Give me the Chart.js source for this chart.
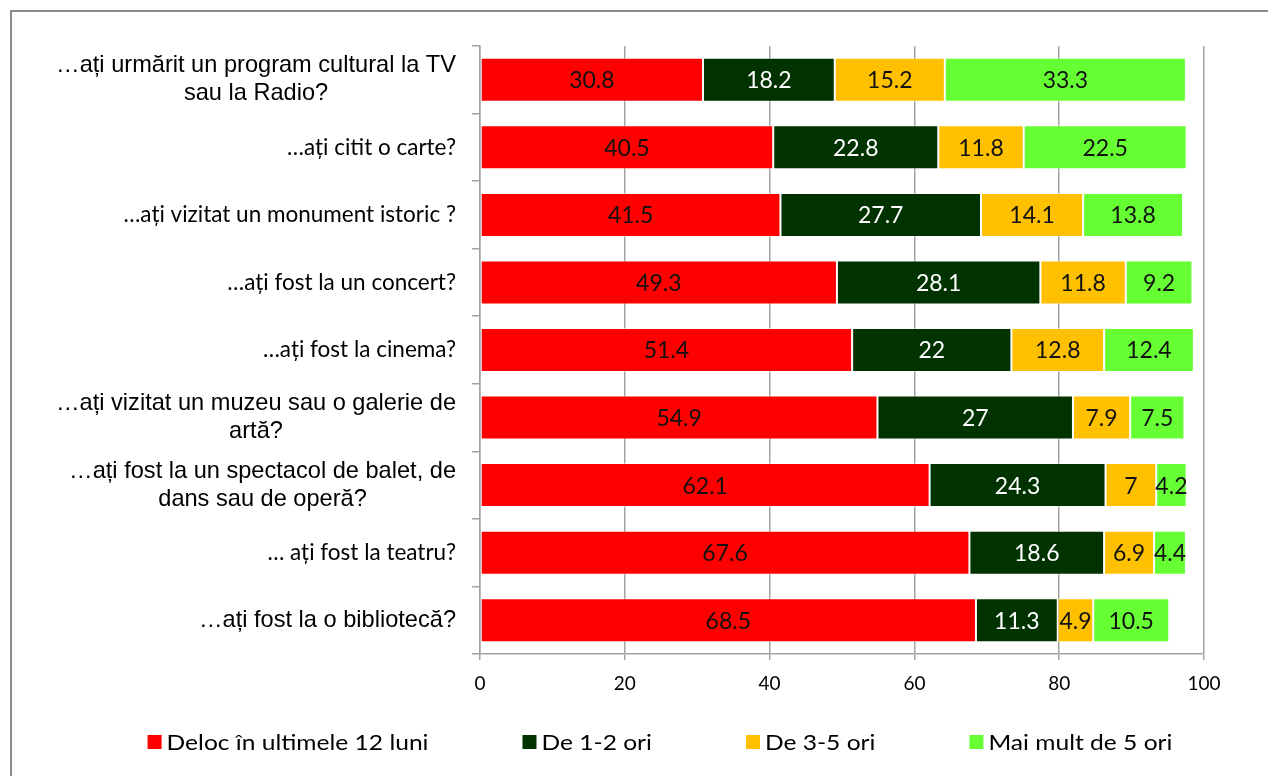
<!DOCTYPE html>
<html>
<head>
<meta charset="utf-8">
<script src="https://cdn.jsdelivr.net/npm/chart.js@4/dist/chart.umd.min.js"></script>
<style>
  html, body { margin: 0; padding: 0; background: #fff; overflow: hidden; }
  #wrap { position: absolute; left: 0; top: 0; width: 1320px; height: 800px; }
</style>
</head>
<body>
<div id="wrap"><canvas id="c" width="1320" height="800"></canvas></div>
<script>
// Questions (one array per category; several entries mean several lines)
const categories = [
  ['…ați urmărit un program cultural la TV', 'sau la Radio?'],
  ['…ați citit o carte?'],
  ['…ați vizitat un monument istoric ?'],
  ['…ați fost la un concert?'],
  ['…ați fost la cinema?'],
  ['…ați vizitat un muzeu sau o galerie de', 'artă?'],
  ['…ați fost la un spectacol de balet, de', 'dans sau de operă?'],
  ['… ați fost la teatru?'],
  ['…ați fost la o bibliotecă?']
];

// Answer shares (%)
const deloc = [30.8, 40.5, 41.5, 49.3, 51.4, 54.9, 62.1, 67.6, 68.5];
const de1la2 = [18.2, 22.8, 27.7, 28.1, 22, 27, 24.3, 18.6, 11.3];
const de3la5 = [15.2, 11.8, 14.1, 11.8, 12.8, 7.9, 7, 6.9, 4.9];
const peste5 = [33.3, 22.5, 13.8, 9.2, 12.4, 7.5, 4.2, 4.4, 10.5];

const seriesNames = ['Deloc în ultimele 12 luni', 'De 1-2 ori', 'De 3-5 ori', 'Mai mult de 5 ori'];
const xTicks = [0, 20, 40, 60, 80, 100];

// Which question labels use the sans (Arial-like) face
const sansLabel = [true, false, false, false, false, true, true, false, true];

const colors = ['#ff0000', '#003300', '#ffc000', '#66ff33'];
const labelColors = ['#111111', '#ffffff', '#111111', '#111111'];
const GRID = '#a3a3a3';
const NARROW = 'Lato, "Open Sans", sans-serif';
const SANS = '"Liberation Sans", Arial, sans-serif';

const framePlugin = {
  id: 'frame',
  beforeDraw(chart) {
    const ctx = chart.ctx;
    ctx.save();
    ctx.fillStyle = '#fff';
    ctx.fillRect(0, 0, chart.width, chart.height);
    ctx.strokeStyle = '#8c8c8c';
    ctx.lineWidth = 2;
    ctx.strokeRect(11, 11, 1500, 1000);
    ctx.restore();
  }
};

const questionLabels = {
  id: 'questionLabels',
  afterDraw(chart) {
    const ctx = chart.ctx;
    const yScale = chart.scales.y;
    const right = yScale.right - 24;
    ctx.save();
    ctx.fillStyle = '#000';
    ctx.textBaseline = 'middle';
    ctx.textAlign = 'center';
    categories.forEach((lines, i) => {
      ctx.font = sansLabel[i] ? '23.6px ' + SANS : '22.5px ' + NARROW;
      const y = yScale.getPixelForValue(i);
      const widest = Math.max(...lines.map(l => ctx.measureText(l).width));
      const cx = right - widest / 2;
      const step = 28;
      lines.forEach((line, k) => {
        ctx.fillText(line, cx, y + (k - (lines.length - 1) / 2) * step);
      });
    });
    ctx.restore();
  }
};

const valueLabels = {
  id: 'valueLabels',
  afterDatasetsDraw(chart) {
    const ctx = chart.ctx;
    ctx.save();
    ctx.font = '23px ' + NARROW;
    ctx.textAlign = 'center';
    ctx.textBaseline = 'middle';
    chart.data.datasets.forEach((ds, d) => {
      const meta = chart.getDatasetMeta(d);
      ctx.fillStyle = labelColors[d];
      meta.data.forEach((bar, i) => {
        const p = bar.getProps(['x', 'y', 'base'], true);
        ctx.fillText(String(ds.data[i]), (p.x + p.base) / 2, p.y + 1);
      });
    });
    ctx.restore();
  }
};

const bottomLegend = {
  id: 'bottomLegend',
  afterDraw(chart) {
    const ctx = chart.ctx;
    const box = 14, textGap = 5, itemGap = 94, cy = 742, sx = 1.17;
    ctx.save();
    ctx.font = '21px ' + NARROW;
    ctx.textBaseline = 'middle';
    ctx.textAlign = 'left';
    const items = chart.data.datasets.map(ds => {
      const tw = ctx.measureText(ds.label).width * sx;
      return { text: ds.label, color: ds.backgroundColor, tw, w: box + textGap + tw };
    });
    const total = items.reduce((s, it) => s + it.w, 0) + itemGap * (items.length - 1);
    let x = 660 - total / 2;
    items.forEach(it => {
      ctx.fillStyle = it.color;
      ctx.fillRect(x, cy - box / 2, box, box);
      ctx.fillStyle = '#000';
      ctx.save();
      ctx.translate(x + box + textGap, cy + 1);
      ctx.scale(sx, 1);
      ctx.fillText(it.text, 0, 0);
      ctx.restore();
      x += it.w + itemGap;
    });
    ctx.restore();
  }
};

const seriesValues = [deloc, de1la2, de3la5, peste5];

new Chart(document.getElementById('c'), {
  type: 'bar',
  data: {
    labels: categories.map(l => l.join(' ')),
    datasets: seriesValues.map((vals, d) => ({
      label: seriesNames[d],
      data: vals,
      backgroundColor: colors[d],
      borderColor: 'rgba(255,255,255,0.45)',
      borderWidth: 1,
      borderSkipped: false,
      barPercentage: 0.651,
      categoryPercentage: 1
    }))
  },
  options: {
    indexAxis: 'y',
    responsive: false,
    animation: false,
    devicePixelRatio: 1,
    layout: { padding: { top: 46, right: 116, left: 0, bottom: 0 } },
    plugins: {
      legend: { display: false },
      tooltip: { enabled: false }
    },
    scales: {
      x: {
        stacked: true,
        min: 0,
        max: 100,
        afterBuildTicks(scale) { scale.ticks = xTicks.map(v => ({ value: v })); },
        afterFit(scale) { scale.height = 146; },
        grid: { color: GRID, lineWidth: 1.5, tickLength: 6, drawTicks: true },
        border: { color: GRID, width: 1.5 },
        ticks: { color: '#000', font: { family: NARROW, size: 19 }, padding: 12, maxRotation: 0 }
      },
      y: {
        stacked: true,
        afterFit(scale) { scale.width = 480; },
        grid: { offset: true, drawOnChartArea: false, drawTicks: true, tickLength: 8, color: GRID, lineWidth: 1.5 },
        border: { color: GRID, width: 1.5 },
        ticks: { display: false }
      }
    }
  },
  plugins: [framePlugin, questionLabels, valueLabels, bottomLegend]
});
</script>
</body>
</html>
